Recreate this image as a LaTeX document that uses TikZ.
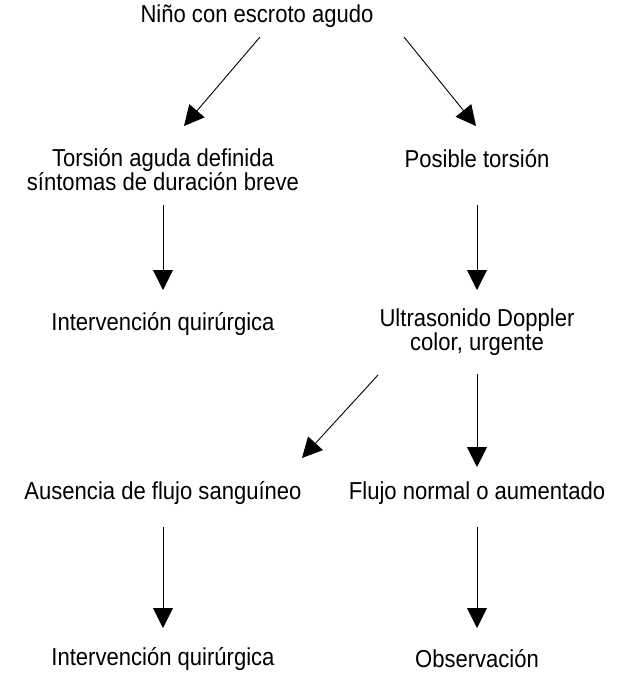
\documentclass[tikz,border=0pt]{standalone}
\usepackage{fontspec}
\setmainfont{Liberation Sans}[FakeStretch=0.9]
\usetikzlibrary{arrows.meta,calc}
\begin{document}
\begin{tikzpicture}[x=1pt,y=-1pt,
  lbl/.style={inner sep=0pt, align=center, font=\fontsize{24.5}{24}\selectfont},
  arr/.style={line width=0.9pt, -{Triangle[length=20pt,width=20pt]}}]
\useasboundingbox (0,0) rectangle (643,674);
\node[lbl] (n0) at (257,16) {Niño con escroto agudo};
\node[lbl] (n1) at (163,170) {Torsión aguda definida\\síntomas de duración breve};
\node[lbl] (n2) at (477,159) {Posible torsión};
\node[lbl] (n3) at (163,324) {Intervención quirúrgica};
\node[lbl] (n4) at (477,332) {Ultrasonido Doppler\\color, urgente};
\node[lbl] (n5) at (163,493) {Ausencia de flujo sanguíneo};
\node[lbl] (n6) at (477,493) {Flujo normal o aumentado};
\node[lbl] (n7) at (163,659) {Intervención quirúrgica};
\node[lbl] (n8) at (477,659) {Observación};
\coordinate (s1) at (260,37);  \coordinate (e1) at (184,126);
\coordinate (s2) at (404,37);  \coordinate (e2) at (476,126);
\coordinate (s3) at (163,205); \coordinate (e3) at (163,290);
\coordinate (s4) at (477,205); \coordinate (e4) at (477,290);
\coordinate (s5) at (378,375); \coordinate (e5) at (302,458);
\coordinate (s6) at (477,374); \coordinate (e6) at (477,467);
\coordinate (s7) at (163,527); \coordinate (e7) at (163,628);
\coordinate (s8) at (477,527); \coordinate (e8) at (477,628);
\draw[arr] (s1) -- (e1);
\draw[arr] (s2) -- (e2);
\draw[arr] (s3) -- (e3);
\draw[arr] (s4) -- (e4);
\draw[arr] (s5) -- (e5);
\draw[arr] (s6) -- (e6);
\draw[arr] (s7) -- (e7);
\draw[arr] (s8) -- (e8);
\end{tikzpicture}
\end{document}
